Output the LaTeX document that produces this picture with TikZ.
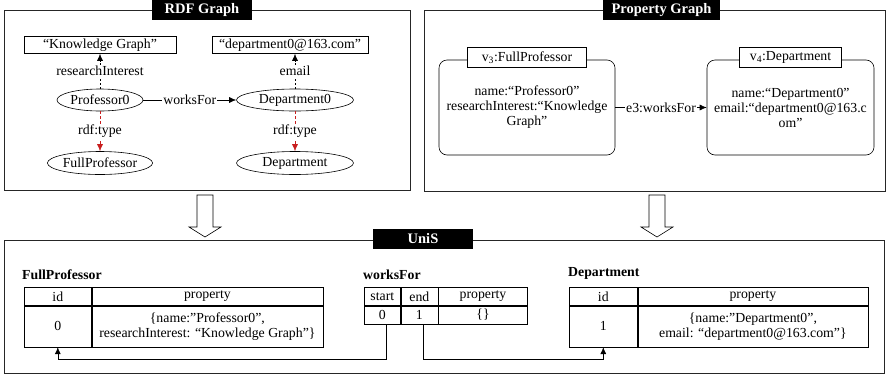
\documentclass[tikz,border=0pt]{standalone}
\usepackage{fontspec}
\setmainfont{Liberation Serif}
\usetikzlibrary{arrows.meta,positioning,calc,shapes.geometric}
\definecolor{rdfred}{RGB}{200,30,30}

\begin{document}
\begin{tikzpicture}[x=1pt, y=-1pt,
  every node/.style={font=\fontsize{13.8}{15}\selectfont, inner sep=1pt},
  panel/.style={draw=black!85, line width=0.8pt, inner sep=0pt},
  tag/.style={fill=black, text=white, font=\fontsize{14.5}{16}\selectfont\bfseries,
              minimum height=20pt, inner sep=0pt},
  lit/.style={draw, line width=0.6pt, minimum height=17pt, inner sep=0pt},
  res/.style={draw, ellipse, line width=0.6pt, minimum height=22pt, inner sep=0pt},
  vbox/.style={draw, line width=0.6pt, rounded corners=8pt, align=center,
               minimum height=95pt, inner sep=0pt},
  vlabel/.style={draw, fill=white, line width=0.6pt, minimum height=20pt, inner sep=0pt},
  cell/.style={draw, line width=0.6pt, inner sep=0pt, align=center},
  tname/.style={font=\fontsize{13.8}{15}\selectfont\bfseries, anchor=west},
  link/.style={-{Latex[length=7pt,width=6pt]}, line width=0.6pt},
  elabel/.style={fill=white, inner sep=1pt},
  bigarrow/.style={draw, fill=white, line width=0.6pt},
]
\useasboundingbox (0,0) rectangle (888,378);

% frames
\node[panel, minimum width=406pt, minimum height=180pt] (rdfbox) at (207,100) {};
\node[panel, minimum width=461pt, minimum height=181pt] (pgbox) at (654.5,100.5) {};
\node[panel, minimum width=880pt, minimum height=133pt] (unisbox) at (444,306.5) {};
\node[tag, minimum width=100pt] (rdftag) at (202,10) {RDF Graph};
\node[tag, minimum width=117pt] (pgtag) at (661.5,10) {Property Graph};
\node[tag, minimum width=100pt] (unistag) at (423,239) {UniS};

% RDF graph
\node[lit, minimum width=152pt] (kg) at (100,45) {“Knowledge Graph”};
\node[lit, minimum width=156pt] (mail) at (290,45) {“department0@163.com”};
\node[res, minimum width=86pt] (prof) at (100,100) {Professor0};
\node[res, minimum width=117pt] (dep0) at (295,100) {Department0};
\node[res, minimum width=102pt, minimum height=23pt] (fullprof) at (100,163) {FullProfessor};
\node[res, minimum width=117pt, minimum height=23pt] (dept) at (295,163) {Department};

\draw[link, dash pattern=on 2pt off 2pt] (prof.north) -- node[elabel] {researchInterest} (kg.south);
\draw[link, dash pattern=on 2pt off 2pt] (dep0.north) -- node[elabel] {email} (dep0.north |- mail.south);
\draw[link] (prof.east) -- node[elabel] {worksFor} (dep0.west);
\draw[link, rdfred, dash pattern=on 3pt off 2pt] (prof.south) -- node[elabel, text=black] {rdf:type} (fullprof.north);
\draw[link, rdfred, dash pattern=on 3pt off 2pt] (dep0.south) -- node[elabel, text=black] {rdf:type} (dept.north);

% property graph
\node[vbox, minimum width=176pt] (vthree) at (527,107.5)
  {name:“Professor0”\\researchInterest:“Knowledge\\Graph”};
\node[vbox, minimum width=167pt] (vfour) at (790.5,107.5)
  {name:“Department0”\\email:“department0@163.c\\om”};
\node[vlabel, minimum width=119pt] (vthreetag) at ([yshift=2pt]vthree.north) {v\textsubscript{3}:FullProfessor};
\node[vlabel, minimum width=102pt] (vfourtag) at ([yshift=2pt]vfour.north) {v\textsubscript{4}:Department};
\draw[link] (vthree.east) -- node[elabel] {e3:worksFor} (vfour.west);

% transformation arrows
\draw[bigarrow, shift={(205,195)}] (-8,0) -- (8,0) -- (8,32) -- (16,32) -- (0,42)
  -- (-16,32) -- (-8,32) -- cycle;
\draw[bigarrow, shift={(657,195)}] (-8,0) -- (8,0) -- (8,32) -- (16,32) -- (0,42)
  -- (-16,32) -- (-8,32) -- cycle;

% UniS tables
\node[tname] (fpname) at (21,275) {FullProfessor};
\node[cell, minimum width=67pt, minimum height=18pt, anchor=north west] (fpidh) at (24,287) {id};
\node[cell, minimum width=231pt, minimum height=18pt, right=0pt of fpidh] (fproph) {property};
\node[cell, minimum width=67pt, minimum height=41pt, below=0pt of fpidh] (fpid) {0};
\node[cell, minimum width=231pt, minimum height=41pt, right=0pt of fpid] (fprop)
  {\{name:"Professor0",\\researchInterest: “Knowledge Graph”\}};

\node[tname] (wsname) at (362,275) {worksFor};
\node[cell, minimum width=36pt, minimum height=18pt, anchor=north west] (wsstarth) at (364,287) {start};
\node[cell, minimum width=37pt, minimum height=18pt, right=0pt of wsstarth] (wsendh) {end};
\node[cell, minimum width=89pt, minimum height=18pt, right=0pt of wsendh] (wsproph) {property};
\node[cell, minimum width=36pt, minimum height=18pt, below=0pt of wsstarth] (wsstart) {0};
\node[cell, minimum width=37pt, minimum height=18pt, right=0pt of wsstart] (wsend) {1};
\node[cell, minimum width=89pt, minimum height=18pt, right=0pt of wsend] (wsprop) {\{\}};

\node[tname] (dpname) at (567,273) {Department};
\node[cell, minimum width=68pt, minimum height=18pt, anchor=north west] (dpidh) at (569,287) {id};
\node[cell, minimum width=230pt, minimum height=18pt, right=0pt of dpidh] (dproph) {property};
\node[cell, minimum width=68pt, minimum height=41pt, below=0pt of dpidh] (dpid) {1};
\node[cell, minimum width=230pt, minimum height=41pt, right=0pt of dpid] (dprop)
  {\{name:"Department0",\\email: “department0@163.com”\}};

\draw[link] ([xshift=4pt]wsstart.south) -- ++(0,35) -| (fpid.south);
\draw[link] ([xshift=4pt]wsend.south) -- ++(0,35) -| (dpid.south);
\end{tikzpicture}
\end{document}
